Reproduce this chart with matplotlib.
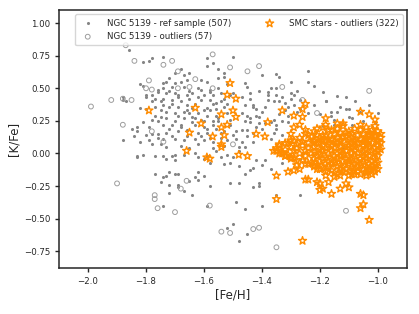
import matplotlib
matplotlib.use("Agg")
from matplotlib import pyplot as plt
import seaborn as sns

# NGC 5139 reference sample (gray dots)
ref_feh = [
    -1.86, -1.81, -1.79, -1.78, -1.82, -1.81, -1.76, -1.80, -1.80, -1.78, -1.77, -1.88, -1.88, -1.87,
    -1.78, -1.75, -1.82, -1.80, -1.77, -1.75, -1.77, -1.78, -1.76, -1.81, -1.79, -1.83, -1.85, -1.83,
    -1.78, -1.76, -1.80, -1.84, -1.88, -1.79, -1.78, -1.75, -1.82,
    -1.74, -1.59, -1.59, -1.57, -1.55, -1.53, -1.68, -1.70, -1.67, -1.65, -1.72, -1.73, -1.74, -1.70,
    -1.68, -1.66, -1.61, -1.59, -1.55, -1.53, -1.52, -1.74, -1.71, -1.67, -1.62, -1.61, -1.58, -1.55,
    -1.54, -1.73, -1.70, -1.69, -1.66, -1.64, -1.60, -1.57, -1.51, -1.50, -1.74, -1.71, -1.68, -1.65,
    -1.61, -1.58, -1.57, -1.54, -1.74, -1.72, -1.69, -1.66, -1.64, -1.59, -1.58, -1.53, -1.73, -1.70,
    -1.67, -1.65, -1.62, -1.59, -1.56, -1.52, -1.73, -1.70, -1.67, -1.63, -1.60, -1.57, -1.55, -1.74,
    -1.71, -1.68, -1.63, -1.60, -1.57, -1.51, -1.73, -1.69, -1.66, -1.62, -1.59, -1.54, -1.49, -1.74,
    -1.70, -1.67, -1.63, -1.60, -1.57, -1.52, -1.49, -1.50,
    -1.40, -1.35, -1.34, -1.30, -1.24, -1.24, -1.22, -1.46, -1.45, -1.44, -1.37, -1.38, -1.38, -1.35,
    -1.30, -1.29, -1.30, -1.33, -1.27, -1.47, -1.46, -1.43, -1.43, -1.42, -1.39, -1.36, -1.34, -1.31,
    -1.27, -1.24, -1.47, -1.45, -1.42, -1.41, -1.34, -1.31, -1.28, -1.46, -1.44, -1.41, -1.37, -1.35,
    -1.33, -1.47, -1.45, -1.43, -1.40, -1.36, -1.33, -1.45, -1.37, -1.47, -1.43,
    -1.19, -1.18, -1.14, -1.11, -1.16, -1.14, -1.11, -1.10, -1.16, -1.10, -1.00, -1.09, -1.06, -1.19,
    -1.15, -1.09, -1.05, -1.01,
    -1.74, -1.73, -1.71, -1.70, -1.70, -1.67, -1.63, -1.62, -1.60, -1.59, -1.58, -1.56, -1.54, -1.52,
    -1.53, -1.51, -1.50, -1.48, -1.72, -1.74, -1.73, -1.70, -1.69, -1.63, -1.62, -1.60, -1.62, -1.72,
    -1.69, -1.69, -1.67, -1.72, -1.65, -1.58, -1.51, -1.48, -1.64, -1.74, -1.59, -1.49, -1.50, -1.52,
    -1.48,
    -1.46, -1.42, -1.39, -1.43, -1.46, -1.41, -1.41, -1.43, -1.40, -1.46, -1.45, -1.27, -1.35, -1.33,
    -1.27, -1.26,
    -1.83, -1.81, -1.77, -1.77, -1.75, -1.83, -1.12, -1.05, -1.17,
    # extra dots filling the dense part of the cloud
    -1.76, -1.72, -1.69, -1.65, -1.62, -1.58, -1.56, -1.53, -1.71, -1.66, -1.63, -1.60, -1.56, -1.52,
    -1.75, -1.69, -1.64, -1.61, -1.55, -1.51, -1.72, -1.68, -1.64, -1.59, -1.56, -1.53, -1.76, -1.71,
    -1.66, -1.61, -1.58, -1.54, -1.50, -1.73, -1.68, -1.65, -1.62, -1.57, -1.53, -1.48, -1.44, -1.41,
    -1.38, -1.35, -1.32, -1.28, -1.44, -1.40, -1.36, -1.32, -1.29, -1.42, -1.39, -1.35, -1.31, -1.48,
    -1.44, -1.40, -1.37, -1.22, -1.18, -1.13, -1.08, -1.03, -1.20, -1.15,
]
ref_kfe = [
    0.79, 0.70, 0.71, 0.73, 0.53, 0.52, 0.49, 0.45, 0.43, 0.45, 0.42, 0.43, 0.41, 0.40,
    0.40, 0.40, 0.35, 0.34, 0.36, 0.33, 0.29, 0.26, 0.25, 0.24, 0.20, 0.20, 0.19, 0.17,
    0.15, 0.15, 0.14, 0.13, 0.10, 0.10, 0.07, 0.07, 0.09,
    0.74, 0.73, 0.67, 0.69, 0.65, 0.62, 0.65, 0.62, 0.60, 0.62, 0.58, 0.55, 0.54, 0.54,
    0.55, 0.56, 0.56, 0.55, 0.58, 0.59, 0.53, 0.50, 0.51, 0.51, 0.50, 0.49, 0.49, 0.50,
    0.46, 0.46, 0.46, 0.45, 0.45, 0.46, 0.45, 0.45, 0.45, 0.46, 0.42, 0.41, 0.40, 0.42,
    0.41, 0.41, 0.38, 0.40, 0.37, 0.36, 0.36, 0.37, 0.35, 0.35, 0.33, 0.36, 0.32, 0.31,
    0.32, 0.31, 0.31, 0.29, 0.29, 0.31, 0.27, 0.25, 0.27, 0.27, 0.25, 0.25, 0.25, 0.22,
    0.22, 0.22, 0.22, 0.20, 0.22, 0.22, 0.16, 0.17, 0.18, 0.16, 0.16, 0.16, 0.17, 0.11,
    0.11, 0.10, 0.11, 0.10, 0.09, 0.10, 0.11, 0.74,
    0.60, 0.61, 0.59, 0.55, 0.63, 0.55, 0.52, 0.54, 0.51, 0.46, 0.50, 0.47, 0.45, 0.45,
    0.46, 0.45, 0.42, 0.43, 0.41, 0.43, 0.37, 0.37, 0.36, 0.34, 0.36, 0.40, 0.40, 0.36,
    0.34, 0.31, 0.31, 0.29, 0.29, 0.28, 0.30, 0.29, 0.32, 0.25, 0.24, 0.23, 0.24, 0.22,
    0.25, 0.18, 0.18, 0.16, 0.19, 0.16, 0.14, 0.13, 0.11, 0.09, 0.09,
    0.47, 0.40, 0.44, 0.43, 0.32, 0.32, 0.34, 0.34, 0.29, 0.28, 0.31, 0.27, 0.32, 0.21,
    0.22, 0.22, 0.25, 0.23,
    -0.02, -0.04, -0.02, -0.01, -0.05, -0.01, 0.00, -0.03, -0.04, -0.02, -0.07, 0.02, -0.03, -0.01,
    -0.08, -0.07, -0.03, 0.02, -0.14, -0.18, -0.17, -0.16, -0.16, -0.18, -0.14, -0.17, -0.20, -0.24,
    -0.24, -0.26, -0.29, -0.30, -0.21, -0.25, -0.23, -0.23, -0.32, -0.40, -0.40, -0.37, -0.54, -0.57,
    -0.67,
    0.05, -0.05, -0.05, -0.11, -0.16, -0.23, -0.25, -0.26, -0.40, -0.43, -0.62, -0.32, -0.32, -0.07,
    -0.04, 0.00,
    -0.03, -0.01, -0.02, -0.16, -0.22, -0.02, 0.04, 0.00, -0.13,
    0.47, 0.48, 0.43, 0.48, 0.43, 0.47, 0.39, 0.42, 0.38, 0.33, 0.38, 0.33, 0.34, 0.38,
    0.28, 0.29, 0.28, 0.26, 0.27, 0.26, 0.19, 0.20, 0.24, 0.19, 0.19, 0.17, 0.12, 0.13,
    0.13, 0.13, 0.12, 0.12, 0.14, 0.05, 0.06, 0.04, 0.07, 0.04, 0.06, 0.05, 0.42, 0.48,
    0.41, 0.50, 0.39, 0.48, 0.27, 0.32, 0.26, 0.33, 0.37, 0.20, 0.23, 0.19, 0.24, -0.10,
    -0.13, -0.09, -0.12, 0.37, 0.40, 0.36, 0.40, 0.37, 0.30, 0.26,
]

# NGC 5139 outliers (open gray circles)
out_feh = [
    -1.87, -1.84, -1.74, -1.71, -1.79, -1.63, -1.80, -1.78, -1.65, -1.92, -1.88, -1.85, -1.99, -1.88,
    -1.78, -1.74, -1.69, -1.57, -1.51, -1.45, -1.41, -1.57, -1.33, -1.26, -1.21, -1.03, -1.50, -1.69,
    -1.90, -1.77, -1.77, -1.76, -1.70, -1.66, -1.68, -1.58, -1.54, -1.51, -1.43, -1.41, -1.35, -1.11,
]
out_kfe = [
    0.83, 0.71, 0.68, 0.71, 0.56, 0.57, 0.50, 0.49, 0.51, 0.41, 0.42, 0.41, 0.36, 0.22,
    0.17, 0.09, 0.63, 0.76, 0.66, 0.63, 0.67, 0.50, 0.51, 0.41, 0.31, 0.48, 0.07, 0.50,
    -0.23, -0.32, -0.35, -0.42, -0.45, -0.21, -0.27, -0.40, -0.60, -0.61, -0.58, -0.57, -0.72, -0.44,
]

# SMC stars - outliers (orange open stars)
smc_feh = [
    -1.79, -1.63, -1.66, -1.59, -1.51, -1.52, -1.49, -1.54, -1.50, -1.49, -1.61, -1.52, -1.54, -1.65,
    -1.57, -1.53, -1.54,
    -1.25, -1.26, -1.33, -1.29, -1.26, -1.38, -1.42, -1.39, -1.29, -1.27, -1.30, -1.24, -1.21, -1.34,
    -1.31, -1.29, -1.26, -1.22, -1.25, -1.21,
    -1.06, -1.03, -1.01, -1.18, -1.12, -1.14, -1.18, -1.17, -1.14, -1.06, -1.02, -1.03, -1.01, -1.09,
    -1.11, -1.19, -1.16, -1.20, -1.13, -1.08, -1.04, -1.00, -1.05, -1.10, -1.18,
    -1.58, -1.54, -1.48, -1.45,
    -1.35, -1.35, -1.31, -1.35, -1.29, -1.27, -1.25, -1.24, -1.26, -1.32, -1.30, -1.33, -1.28, -1.25,
    -1.22, -1.21, -1.21,
    -1.20, -1.20, -1.17, -1.16, -1.18, -1.14, -1.13, -1.11, -1.10, -1.06, -1.05, -1.05, -1.06, -1.03,
    -1.02, -1.04, -1.06, -1.09, -1.13, -1.12, -1.19, -1.15, -1.10, -1.08, -1.01, -1.03,
    # dense clump
    -1.19, -1.12, -1.08, -1.04, -1.01,
    -1.22, -1.16, -1.13, -1.10, -1.06, -1.03, -1.00,
    -1.25, -1.18, -1.15, -1.11, -1.07, -1.05, -1.02, -0.99,
    -1.27, -1.23, -1.20, -1.17, -1.14, -1.12, -1.09, -1.06, -1.04, -1.01, -0.99,
    -1.30, -1.26, -1.22, -1.19, -1.15, -1.13, -1.10, -1.08, -1.05, -1.03, -1.00,
    -1.32, -1.28, -1.24, -1.21, -1.17, -1.14, -1.11, -1.09, -1.07, -1.04, -1.02, -0.99,
    -1.34, -1.30, -1.26, -1.22, -1.19, -1.16, -1.13, -1.10, -1.08, -1.05, -1.03, -1.00,
    -1.35, -1.32, -1.28, -1.24, -1.20, -1.18, -1.15, -1.12, -1.09, -1.06, -1.04, -1.01, -0.99,
    -1.36, -1.33, -1.29, -1.25, -1.22, -1.19, -1.16, -1.13, -1.11, -1.08, -1.05, -1.02, -1.00,
    -1.34, -1.31, -1.27, -1.23, -1.20, -1.17, -1.14, -1.12, -1.09, -1.07, -1.04, -1.01,
    -1.32, -1.29, -1.25, -1.21, -1.18, -1.15, -1.13, -1.10, -1.08, -1.05, -1.03, -1.00,
    -1.30, -1.26, -1.22, -1.19, -1.16, -1.14, -1.11, -1.09, -1.06, -1.04, -1.01,
    -1.28, -1.23, -1.20, -1.17, -1.15, -1.12, -1.10, -1.07, -1.05, -1.02, -1.00,
    -1.24, -1.21, -1.18, -1.16, -1.13, -1.10, -1.08, -1.06, -1.03, -1.01,
    -1.22, -1.19, -1.17, -1.14, -1.12, -1.09, -1.07, -1.04, -1.02,
    -1.20, -1.16, -1.13, -1.11, -1.08, -1.05, -1.03, -1.00,
    -1.18, -1.15, -1.10, -1.07, -1.04, -1.01,
]
smc_kfe = [
    0.33, 0.35, 0.02, -0.03, 0.54, 0.45, 0.42, 0.30, 0.33, 0.28, 0.23, 0.22, 0.20, 0.16,
    0.13, 0.14, 0.07,
    0.38, 0.34, 0.33, 0.29, 0.28, 0.24, 0.15, 0.13, 0.20, 0.22, 0.15, 0.14, 0.14, 0.07,
    0.08, 0.10, 0.09, 0.09, 0.18, 0.19,
    0.32, 0.30, 0.26, 0.27, 0.23, 0.23, 0.22, 0.18, 0.19, 0.22, 0.18, 0.14, 0.14, 0.15,
    0.13, 0.14, 0.11, 0.08, 0.09, 0.09, 0.10, 0.09, 0.06, 0.06, 0.10,
    -0.04, 0.05, -0.01, -0.02,
    0.02, -0.17, -0.14, -0.35, -0.13, -0.12, -0.20, -0.20, -0.67, -0.02, -0.03, 0.00, -0.09, -0.08,
    -0.09, -0.22, -0.12,
    -0.23, -0.28, -0.22, -0.31, -0.17, -0.16, -0.27, -0.23, -0.26, -0.31, -0.32, -0.39, -0.42, -0.51,
    -0.16, -0.17, -0.16, -0.16, -0.17, -0.14, -0.27, -0.18, -0.17, -0.16, -0.12, -0.13,
    # dense clump
    0.20, 0.21, 0.19, 0.20, 0.21,
    0.17, 0.18, 0.16, 0.17, 0.18, 0.16, 0.17,
    0.15, 0.14, 0.15, 0.16, 0.14, 0.15, 0.14, 0.15,
    0.12, 0.13, 0.12, 0.11, 0.12, 0.13, 0.12, 0.11, 0.12, 0.13, 0.12,
    0.10, 0.09, 0.10, 0.10, 0.09, 0.10, 0.11, 0.10, 0.09, 0.10, 0.10,
    0.08, 0.07, 0.08, 0.08, 0.07, 0.08, 0.07, 0.08, 0.08, 0.07, 0.08, 0.08,
    0.06, 0.05, 0.06, 0.05, 0.06, 0.06, 0.05, 0.06, 0.05, 0.06, 0.05, 0.06,
    0.04, 0.03, 0.04, 0.04, 0.03, 0.04, 0.04, 0.03, 0.04, 0.04, 0.03, 0.04, 0.03,
    0.02, 0.01, 0.02, 0.02, 0.01, 0.02, 0.02, 0.01, 0.02, 0.02, 0.01, 0.02, 0.02,
    0.00, -0.01, 0.00, 0.00, -0.01, 0.00, 0.00, -0.01, 0.00, 0.00, -0.01, 0.00,
    -0.02, -0.03, -0.02, -0.02, -0.03, -0.02, -0.02, -0.03, -0.02, -0.03, -0.02, -0.02,
    -0.04, -0.05, -0.04, -0.04, -0.05, -0.04, -0.04, -0.05, -0.04, -0.04, -0.05,
    -0.06, -0.07, -0.06, -0.06, -0.07, -0.06, -0.06, -0.07, -0.06, -0.06, -0.07,
    -0.08, -0.09, -0.08, -0.08, -0.09, -0.08, -0.08, -0.09, -0.08, -0.08,
    -0.10, -0.11, -0.10, -0.10, -0.11, -0.10, -0.10, -0.11, -0.10,
    -0.12, -0.13, -0.12, -0.12, -0.13, -0.12, -0.12, -0.12,
    -0.14, -0.15, -0.14, -0.14, -0.15, -0.14,
]

labels = ["NGC 5139 - ref sample (507)", "NGC 5139 - outliers (57)", "SMC stars - outliers (322)"]

sns.set_style("ticks")
plt.rcParams["font.family"] = ["DejaVu Sans"]

fig, ax = plt.subplots(figsize=(4.19, 3.14), dpi=100)
fig.subplots_adjust(left=0.141, right=0.971, top=0.968, bottom=0.146)

ax.scatter(ref_feh, ref_kfe, s=5, color="#858585", linewidths=0, label=labels[0])
ax.scatter(out_feh, out_kfe, s=12, facecolors="none", edgecolors="#9d9d9d", linewidths=0.7, label=labels[1])
ax.scatter(smc_feh, smc_kfe, s=36, marker="*", facecolors="none", edgecolors="#ff8c00", linewidths=1.0, label=labels[2])

ax.set_xlim(-2.1, -0.9)
ax.set_ylim(-0.88, 1.1)
ax.set_xticks([-2.0, -1.8, -1.6, -1.4, -1.2, -1.0])
ax.set_yticks([-0.75, -0.5, -0.25, 0.0, 0.25, 0.5, 0.75, 1.0])
ax.tick_params(labelsize=6.2, length=3, width=1, colors="#262626")
ax.set_xlabel("[Fe/H]", fontsize=8.5, labelpad=2)
ax.set_ylabel("[K/Fe]", fontsize=8.5, labelpad=2)
for sp in ax.spines.values():
    sp.set_linewidth(1.1)

ax.legend(loc="upper right", ncol=2, fontsize=6.2, frameon=True, columnspacing=3.5,
          handletextpad=1.2, borderpad=0.5, labelspacing=0.5)

fig.savefig("out.png", dpi=100)
